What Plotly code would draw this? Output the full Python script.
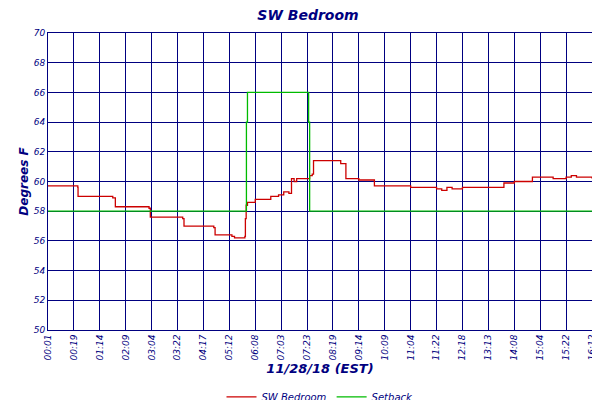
import plotly.graph_objects as go

tick_labels = ["00:01","00:19","01:14","02:09","03:04","03:22","04:17","05:12","06:08","07:03",
               "07:23","08:19","09:14","10:09","11:04","11:22","12:18","13:13","14:08","15:04","15:22","16:12"]

# position in tick-index units, temperature
bed_x = [0.0,1.15,1.16,2.5,2.6,3.9,3.95,5.2,5.25,6.4,6.45,7.1,7.2,7.5,7.6,7.62,7.65,7.7,8.0,8.3,8.6,8.9,9.1,9.3,9.4,9.5,9.6,10.0,10.1,10.2,10.25,11.25,11.3,11.5,11.9,12.0,12.5,12.6,13.5,14.0,15.0,15.2,15.4,15.6,16.0,17.5,17.6,18.0,18.6,18.7,19.5,20.0,20.2,20.4,21.0]
bed_y = [59.7,59.6,59.0,58.9,58.3,58.2,57.6,57.5,57.0,56.9,56.4,56.3,56.2,56.2,56.3,57.5,58.4,58.6,58.8,58.8,59.0,59.1,59.3,59.2,60.2,60.0,60.2,60.2,60.4,60.5,61.4,61.4,61.2,60.2,60.2,60.1,60.1,59.7,59.7,59.6,59.5,59.4,59.6,59.5,59.6,59.6,59.9,60.0,60.0,60.3,60.2,60.3,60.4,60.3,60.2]
set_x = [0.0,7.65,7.66,7.7,10.05,10.06,10.1,21.0]
set_y = [58,58,64,66,66,64,58,58]

navy = "#000080"
fig = go.Figure()
fig.add_trace(go.Scatter(x=bed_x, y=bed_y, mode="lines", line=dict(color="#cc0000", width=1.3, shape="hv"), name="SW Bedroom"))
fig.add_trace(go.Scatter(x=set_x, y=set_y, mode="lines", line=dict(color="#00bb00", width=1.3, shape="hv"), name="Setback"))
fig.add_trace(go.Scatter(x=[0], y=[50], yaxis="y2", mode="markers", marker=dict(opacity=0), showlegend=False, hoverinfo="skip"))

fnt = dict(family="DejaVu Sans", color=navy, size=9, style="italic")
fig.update_layout(
    width=600, height=400, margin=dict(l=40, r=16, t=25, b=78, autoexpand=False),
    paper_bgcolor="white", plot_bgcolor="white",
    title=dict(text="<b>SW Bedroom</b>", x=0.5, y=0.995, yanchor="top", font=dict(family="DejaVu Sans", size=14, color=navy, style="italic")),
    xaxis=dict(range=[0,21], tickvals=list(range(22)), ticktext=tick_labels, tickangle=-90, tickfont=fnt,
               showgrid=True, gridcolor=navy, gridwidth=1, showline=True, linecolor=navy, mirror=True, zeroline=False,
               title=dict(text="<b>11/28/18 (EST)</b>", font=dict(family="DejaVu Sans", size=13, color=navy, style="italic"), standoff=2)),
    yaxis=dict(range=[50,70], dtick=2, tickfont=fnt, showgrid=True, gridcolor=navy, gridwidth=1, showline=True, linecolor=navy, mirror=True, zeroline=False,
               title=dict(text="<b>Degrees F</b>", font=dict(family="DejaVu Sans", size=12, color=navy, style="italic"), standoff=2)),
    yaxis2=dict(range=[50,70], dtick=2, overlaying="y", side="right", tickfont=fnt, showgrid=False, zeroline=False),
    legend=dict(orientation="h", x=0.5, xanchor="center", y=-0.225, yanchor="middle", font=dict(family="DejaVu Sans", size=10, color=navy, style="italic")),
)
fig.write_html("out.html")
